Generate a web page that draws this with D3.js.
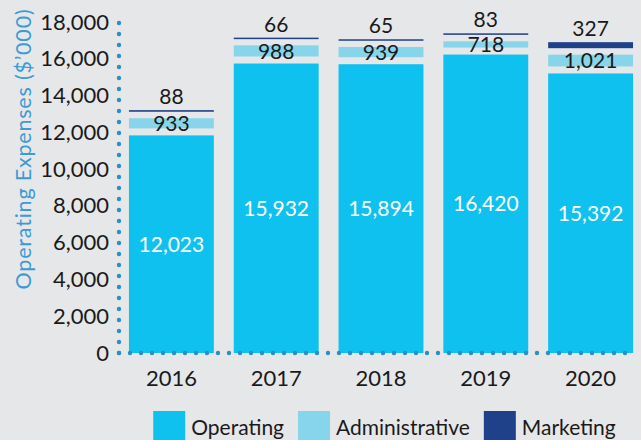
<!DOCTYPE html>
<html>
<head>
<meta charset="utf-8">
<script src="https://cdn.jsdelivr.net/npm/d3@7"></script>
<style>
  html, body { margin: 0; padding: 0; background: #e6e7e9; }
  svg { display: block; font-family: Lato, 'Noto Sans', sans-serif; }
</style>
</head>
<body>
<div id="chart"></div>
<script>
// chart values
const years = ['2016', '2017', '2018', '2019', '2020']
const operating = [12023, 15932, 15894, 16420, 15392]
const administrative = [933, 988, 939, 718, 1021]
const marketing = [88, 66, 65, 83, 327]
const seriesNames = ['Operating', 'Administrative', 'Marketing']
const seriesColors = ['#0fc1ee', '#87d5ea', '#1f418a']
const yTicks = [0, 2000, 4000, 6000, 8000, 10000, 12000, 14000, 16000, 18000]
const yTitle = 'Operating Expenses ($\u2019000)'

const width = 641
const height = 440
const gap = 3.5
const dotColor = '#2a8ec8'
const textColor = '#1a1a1a'
const fmt = d3.format(',')

const svg = d3.select('#chart')
  .append('svg')
  .attr('width', width)
  .attr('height', height)

svg.append('rect')
  .attr('width', width)
  .attr('height', height)
  .attr('fill', '#e6e7e9')

const x = d3.scaleBand()
  .domain(years)
  .range([119, 643])
  .paddingInner(0.19)
  .paddingOuter(0.095)

const y = d3.scaleLinear()
  .domain([0, 18000])
  .range([353, 22])

const color = d3.scaleOrdinal().domain(seriesNames).range(seriesColors)

const rows = years.map((year, i) => ({
  year: year,
  Operating: operating[i],
  Administrative: administrative[i],
  Marketing: marketing[i]
}))

const stacked = d3.stack().keys(seriesNames)(rows)

// visible extent of a segment: small gaps between the pieces of each bar
function segment (d, k) {
  if (k === 0) return { top: y(d[1]) + gap, bottom: y(d[0]) }
  if (k === 1) return { top: y(d[1]) + gap, bottom: y(d[0]) - gap }
  const top = y(d[1]) - 3
  const bottom = Math.max(y(d[0]) - 3, top + 1.5)
  return { top: top, bottom: bottom }
}

// bars
const layers = svg.append('g')
  .selectAll('g')
  .data(stacked)
  .join('g')
  .attr('fill', s => color(s.key))

layers.selectAll('rect')
  .data((s, k) => s.map(d => ({ d: d, k: k })))
  .join('rect')
  .attr('x', p => x(p.d.data.year))
  .attr('width', x.bandwidth())
  .attr('y', p => segment(p.d, p.k).top)
  .attr('height', p => {
    const seg = segment(p.d, p.k)
    return seg.bottom - seg.top
  })

// value labels
const labels = svg.append('g')
  .attr('text-anchor', 'middle')
  .style('font-size', '21px')

labels.selectAll('.op-label')
  .data(stacked[0])
  .join('text')
  .attr('class', 'op-label')
  .attr('x', d => x(d.data.year) + x.bandwidth() / 2)
  .attr('y', d => {
    const seg = segment(d, 0)
    return (seg.top + seg.bottom) / 2
  })
  .attr('dy', '0.36em')
  .attr('fill', '#ffffff')
  .text(d => fmt(d.data.Operating))

labels.selectAll('.adm-label')
  .data(stacked[1])
  .join('text')
  .attr('class', 'adm-label')
  .attr('x', d => x(d.data.year) + x.bandwidth() / 2)
  .attr('y', d => (y(d[0]) + y(d[1])) / 2)
  .attr('dy', '0.36em')
  .attr('fill', textColor)
  .text(d => fmt(d.data.Administrative))

labels.selectAll('.mkt-label')
  .data(stacked[2])
  .join('text')
  .attr('class', 'mkt-label')
  .attr('x', d => x(d.data.year) + x.bandwidth() / 2)
  .attr('y', d => segment(d, 2).top - 6)
  .attr('fill', textColor)
  .text(d => fmt(d.data.Marketing))

// y axis
const yAxis = svg.append('g')
  .attr('transform', 'translate(119,0)')
  .call(d3.axisLeft(y).tickValues(yTicks).tickSize(0).tickPadding(10).tickFormat(fmt))
yAxis.select('.domain').remove()
yAxis.selectAll('text')
  .attr('fill', textColor)
  .style('font-size', '22px')
  .style('font-family', 'Lato, sans-serif')

// x axis
const xAxis = svg.append('g')
  .attr('transform', `translate(0,${y(0)})`)
  .call(d3.axisBottom(x).tickSize(0).tickPadding(17))
xAxis.select('.domain').remove()
xAxis.selectAll('text')
  .attr('fill', textColor)
  .style('font-size', '22px')
  .style('font-family', 'Lato, sans-serif')

// dotted axis lines
svg.append('line')
  .attr('x1', 119).attr('x2', 119)
  .attr('y1', y(0)).attr('y2', y(18000))
  .attr('stroke', dotColor)
  .attr('stroke-width', 4.4)
  .attr('stroke-linecap', 'round')
  .attr('stroke-dasharray', '0 11')

svg.append('line')
  .attr('x1', 119).attr('x2', 635)
  .attr('y1', y(0)).attr('y2', y(0))
  .attr('stroke', dotColor)
  .attr('stroke-width', 4.4)
  .attr('stroke-linecap', 'round')
  .attr('stroke-dasharray', '0 11')

// y title
svg.append('text')
  .attr('transform', 'translate(31,149) rotate(-90)')
  .attr('text-anchor', 'middle')
  .attr('fill', '#3a9bd5')
  .style('font-size', '21.5px')
  .style('letter-spacing', '0.8px')
  .text(yTitle)

// legend
const legend = svg.append('g')
  .style('font-size', '21px')
let lx = 0
seriesNames.forEach(name => {
  const g = legend.append('g')
  g.append('rect')
    .attr('y', 411)
    .attr('width', 32)
    .attr('height', 32)
    .attr('fill', color(name))
  const t = g.append('text')
    .attr('x', 38)
    .attr('y', 435)
    .attr('fill', textColor)
    .text(name)
  g.attr('transform', `translate(${lx},0)`)
  lx += 38 + t.node().getComputedTextLength() + 14
})
const legendWidth = lx - 14
legend.attr('transform', `translate(${384.5 - legendWidth / 2},0)`)
</script>
</body>
</html>
